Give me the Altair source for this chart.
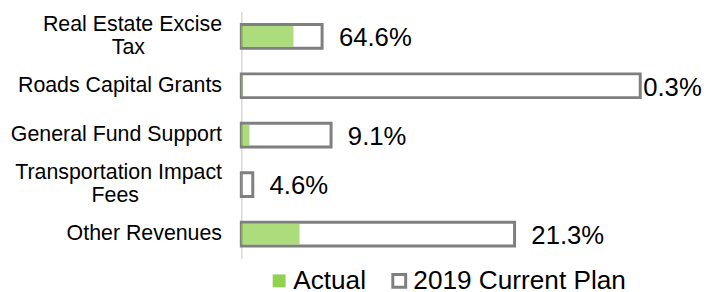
import altair as alt
import pandas as pd

NB = "\u00a0"
ZW = "\u200b"
categories = [
    "Real Estate Excise\nTax" + NB * 13 + ZW,
    "Roads Capital Grants",
    "General Fund Support",
    "Transportation Impact\nFees" + NB * 14 + ZW,
    "Other Revenues",
]
plan = [8.1, 40.0, 9.0, 1.15, 27.4]
actual = [5.23, 0.12, 0.82, 0.05, 5.84]
pct_labels = ["64.6%", "0.3%", "9.1%", "4.6%", "21.3%"]
series_names = ["Actual", "2019 Current Plan"]

rows = []
for c, p, a, l in zip(categories, plan, actual, pct_labels):
    rows.append({"category": c, "series": series_names[1], "value": p, "label": l})
    rows.append({"category": c, "series": series_names[0], "value": a, "label": l})
df = pd.DataFrame(rows)

FONT = "Liberation Sans"

y = alt.Y(
    "category:N",
    sort=categories,
    scale=alt.Scale(paddingInner=0, paddingOuter=0),
    axis=alt.Axis(
        title=None,
        labelExpr="split(datum.label, '\\n')",
        labelFontSize=21.6,
        labelFont=FONT,
        labelColor="#000000",
        labelPadding=20,
        labelLineHeight=23,
        labelOffset={
            "condition": {"test": "indexof(datum.value, '\\n') >= 0", "value": -11.5},
            "value": 0,
        },
        labelAlign="right",
        labelBaseline="middle",
        labelLimit=400,
        ticks=False,
        domainColor="#D9D9D9",
        domainWidth=1.5,
        grid=False,
    ),
)
x = alt.X("value:Q", scale=alt.Scale(domain=[0, 45.6], nice=False), axis=None)

legend = alt.Legend(
    title=None,
    orient="none",
    legendX=25,
    legendY=259,
    direction="horizontal",
    symbolType="square",
    symbolSize=170,
    symbolStrokeWidth=3,
    symbolOpacity=1,
    labelFontSize=26.5,
    labelFont=FONT,
    labelColor="#000000",
    labelOffset=1,
    columnPadding=19.5,
    padding=0,
    labelLimit=400,
)
fill = alt.Fill(
    "series:N",
    scale=alt.Scale(domain=series_names, range=["#92D050", "#FFFFFF"]),
    legend=legend,
)
stroke = alt.Stroke(
    "series:N",
    scale=alt.Scale(domain=series_names, range=["transparent", "#7F7F7F"]),
    legend=legend,
)

base = alt.Chart(df)

plan_bars = base.transform_filter(alt.datum.series == series_names[1]).mark_bar(
    size=24, strokeWidth=3
).encode(x=x, y=y, fill=fill, stroke=stroke)

actual_bars = base.transform_filter(alt.datum.series == series_names[0]).mark_bar(
    size=21, opacity=0.75, strokeWidth=0
).encode(x=x, y=y, fill=fill, stroke=stroke)

labels_out = base.transform_filter(
    (alt.datum.series == series_names[1]) & (alt.datum.value < 30)
).mark_text(
    align="left", baseline="middle", dx=17, dy=2, fontSize=26, font=FONT, color="#000000"
).encode(x=x, y=y, text="label:N")

labels_edge = base.transform_filter(
    (alt.datum.series == series_names[1]) & (alt.datum.value >= 30)
).mark_text(
    align="left", baseline="middle", dx=3, dy=2, fontSize=26, font=FONT, color="#000000"
).encode(x=x, y=y, text="label:N")

chart = (
    alt.layer(plan_bars, actual_bars, labels_out, labels_edge)
    .properties(
        width=460,
        height=250,
        autosize="none",
        padding={"left": 236, "top": 2, "right": 6, "bottom": 34},
    )
    .configure_view(stroke=None)
)

chart.save("out.html", embed_options={"renderer": "svg", "actions": False})
